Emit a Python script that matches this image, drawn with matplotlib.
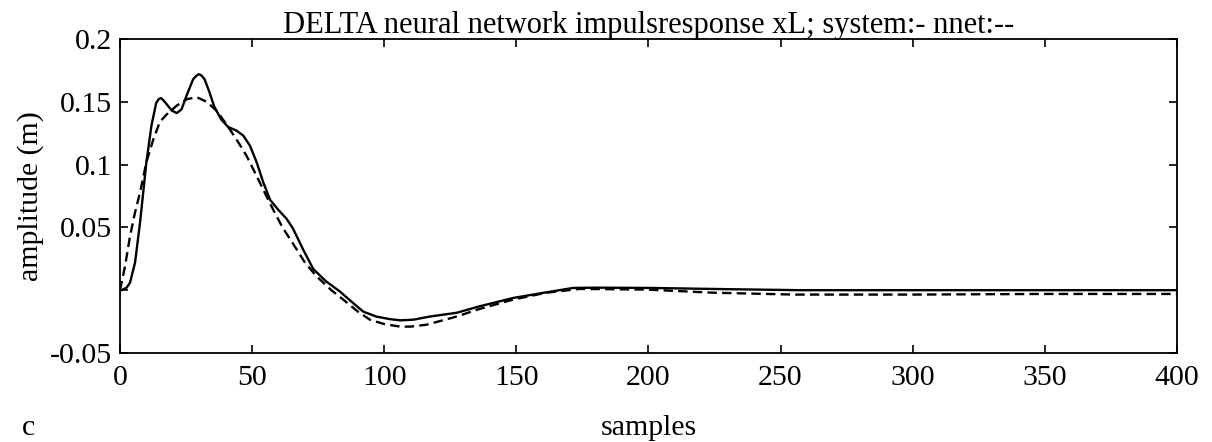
import numpy as np
import matplotlib.pyplot as plt
import matplotlib as mpl

mpl.rcParams['font.family'] = ['Liberation Serif', 'DejaVu Serif']
mpl.rcParams['axes.unicode_minus'] = False

# system response (solid)
sys_x = [0, 0.6, 2.5, 3.8, 5.7, 7.6, 8.8, 10, 11.9, 13.7, 14.6, 15.5, 16.5, 17.7, 19.6,
         21.5, 23.3, 25.2, 27.7, 28.8, 29.8, 30.8, 32, 33.8, 35.7, 38.3, 40.9, 44.1,
         46.7, 49.2, 51.7, 54.2, 56.8, 59.9, 63, 65.5, 69.4, 73.1, 78, 83.2, 87, 92,
         97, 102, 106, 111, 117.3, 127.4, 136, 148.8, 161.4, 171.5, 180, 200, 230,
         257, 300, 350, 400]
sys_y = [0.0, 0.0, 0.002, 0.006, 0.022, 0.054, 0.078, 0.102, 0.131, 0.149, 0.152,
         0.153, 0.151, 0.148, 0.143, 0.141, 0.144, 0.155, 0.168, 0.1705, 0.172, 0.171,
         0.168, 0.158, 0.146, 0.136, 0.130, 0.127, 0.123, 0.115, 0.102, 0.086, 0.072,
         0.064, 0.057, 0.049, 0.032, 0.017, 0.007, -0.001, -0.008, -0.017, -0.021,
         -0.023, -0.024, -0.0235, -0.021, -0.018, -0.0129, -0.0062, -0.0017, 0.0018,
         0.002, 0.0018, 0.0008, 0.0, 0.0, 0.0, 0.0]

# neural network response (dashed)
net_x = [0, 1.9, 3.8, 5.7, 7.6, 10, 12.6, 15.1, 17.7, 21.5, 25.2, 29, 32.8, 36.5, 40.3,
         44.1, 47.9, 51.7, 55.4, 58, 61.5, 65.5, 70, 74.4, 80, 84.5, 90, 94.6, 100,
         106, 110, 116, 127.4, 136, 148.8, 161.4, 174, 199, 224.5, 255, 300, 350, 400]
net_y = [0.0, 0.019, 0.043, 0.062, 0.078, 0.102, 0.120, 0.134, 0.140, 0.147, 0.152,
         0.1537, 0.150, 0.143, 0.132, 0.120, 0.107, 0.091, 0.075, 0.064, 0.050, 0.037,
         0.022, 0.011, 0.0, -0.0075, -0.017, -0.0235, -0.027, -0.029, -0.029, -0.0275,
         -0.021, -0.015, -0.0075, -0.002, 0.001, 0.0005, -0.002, -0.0035, -0.0035,
         -0.003, -0.003]

xticks = [0, 50, 100, 150, 200, 250, 300, 350, 400]
yticks = [-0.05, 0, 0.05, 0.1, 0.15, 0.2]
ylabels = ['-0.05', '', '0.05', '0.1', '0.15', '0.2']

fig = plt.figure(figsize=(12.12, 4.42), dpi=100)
ax = fig.add_axes([0.099, 0.2014, 0.872, 0.7104])

ax.plot(sys_x, sys_y, color='black', lw=1.7, ls='-')
ax.plot(net_x, net_y, color='black', lw=1.7, ls=(0, (4, 2.2)))

ax.set_xlim(0, 400)
ax.set_ylim(-0.05, 0.2)
ax.set_xticks(xticks)
ax.set_xticklabels([str(t) for t in xticks])
ax.set_yticks(yticks)
ax.set_yticklabels(ylabels)
ax.tick_params(direction='in', length=6, width=1.2, top=True, right=True,
               labelsize=21.5)
ax.tick_params(axis='x', pad=9)
ax.tick_params(axis='y', pad=6)
for sp in ax.spines.values():
    sp.set_linewidth(1.3)

ax.set_title('DELTA neural network impulsresponse xL; system:- nnet:--', fontsize=22, pad=4)
ax.set_xlabel('samples', fontsize=21.5, labelpad=17)
ax.set_ylabel('amplitude (m)', fontsize=21.5, labelpad=4)
fig.text(22 / 1212, 1 - 428 / 442, 'c', fontsize=21.5, va='center', ha='left')

fig.savefig('out.png', dpi=100)
